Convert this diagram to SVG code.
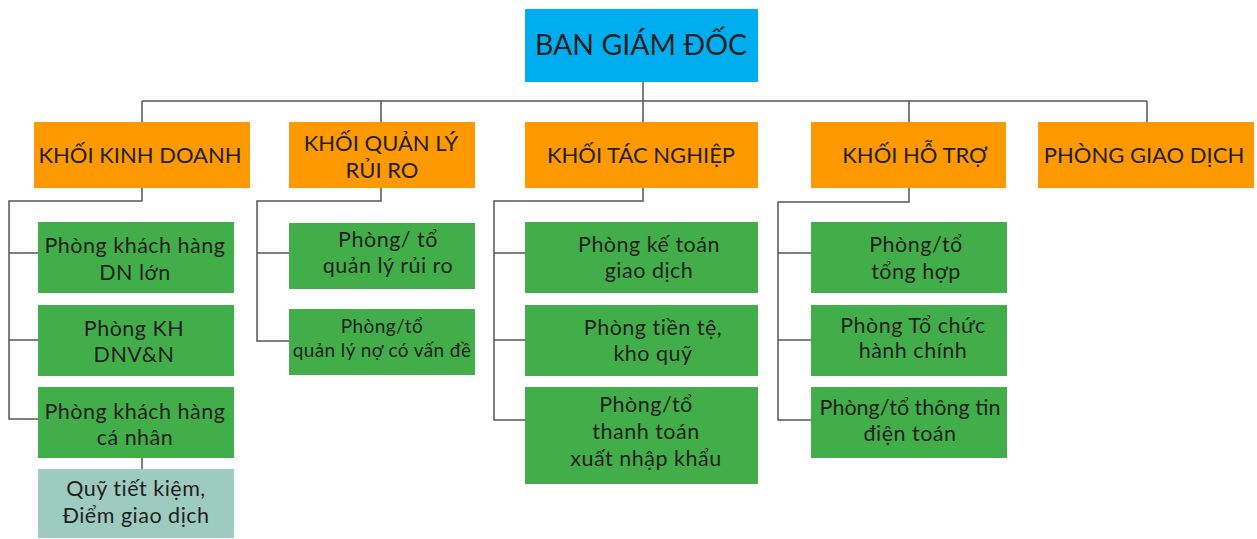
<svg xmlns="http://www.w3.org/2000/svg" width="1257" height="539" viewBox="0 0 1257 539">
<style>
text{font-family:Lato,"Open Sans","DejaVu Sans",sans-serif;fill:#231f20;text-anchor:middle}
.top{font-size:28.5px}
.h{font-size:22px}
.g{font-size:21.5px;letter-spacing:0.5px}
.s{font-size:19px;letter-spacing:0.4px}
.blue{fill:#00aeef}
.org{fill:#ff9900}
.grn{fill:#41ae4a}
.teal{fill:#9ecbbf}
.c{fill:none;stroke:#555;stroke-width:1.5}
</style>
<rect width="1257" height="539" fill="#fff"/>
<g id="connectors" class="c">
<path d="M643 82V122M142 101H1147M142 101V122M381 101V122M909 101V122M1147 101V122"/>
<path d="M142 188V201H9V419H38M9 253H38M9 340H38M142 458V469"/>
<path d="M381 188V201H257V341H289M257 253H289"/>
<path d="M643 188V201H494V420H525M494 253H525M494 340H525"/>
<path d="M909 188V202H778V420H811M778 253H811M778 340H811"/>
</g>
<g id="ban-giam-doc"><rect class="blue" x="525" y="9" width="233" height="73"/><text class="top" x="641" y="55">BAN GIÁM ĐỐC</text></g>
<g id="khoi-kinh-doanh"><rect class="org" x="34" y="122" width="216" height="66"/><text class="h" x="140" y="163">KHỐI KINH DOANH</text></g>
<g id="khoi-quan-ly-rui-ro"><rect class="org" x="289" y="122" width="186" height="66"/><text class="h" x="381" y="151">KHỐI QUẢN LÝ</text><text class="h" x="382" y="178">RỦI RO</text></g>
<g id="khoi-tac-nghiep"><rect class="org" x="525" y="122" width="233" height="66"/><text class="h" x="641" y="163">KHỐI TÁC NGHIỆP</text></g>
<g id="khoi-ho-tro"><rect class="org" x="811" y="122" width="195" height="66"/><text class="h" x="915" y="163">KHỐI HỖ TRỢ</text></g>
<g id="phong-giao-dich"><rect class="org" x="1038" y="122" width="216" height="66"/><text class="h" x="1144" y="163">PHÒNG GIAO DỊCH</text></g>

<g id="kh-dn-lon"><rect class="grn" x="38" y="222" width="196" height="71"/><text class="g" x="135" y="253">Phòng khách hàng</text><text class="g" x="135" y="280">DN lớn</text></g>
<g id="kh-dnvn"><rect class="grn" x="38" y="305" width="196" height="71"/><text class="g" x="134" y="336">Phòng KH</text><text class="g" x="134" y="362">DNV&amp;N</text></g>
<g id="kh-ca-nhan"><rect class="grn" x="38" y="387" width="196" height="71"/><text class="g" x="135" y="419">Phòng khách hàng</text><text class="g" x="135" y="445">cá nhân</text></g>
<g id="quy-tiet-kiem"><rect class="teal" x="38" y="469" width="196" height="69"/><text class="g" x="136" y="496">Quỹ tiết kiệm,</text><text class="g" x="136" y="523">Điểm giao dịch</text></g>

<g id="qlrr"><rect class="grn" x="289" y="223" width="186" height="66"/><text class="g" x="388" y="247">Phòng/ tổ</text><text class="g" x="388" y="273">quản lý rủi ro</text></g>
<g id="ql-no"><rect class="grn" x="289" y="309" width="186" height="66"/><text class="s" x="382" y="333">Phòng/tổ</text><text class="s" x="382" y="357">quản lý nợ có vấn đề</text></g>

<g id="ke-toan"><rect class="grn" x="525" y="222" width="233" height="71"/><text class="g" x="649" y="252">Phòng kế toán</text><text class="g" x="649" y="278">giao dịch</text></g>
<g id="tien-te"><rect class="grn" x="525" y="305" width="233" height="71"/><text class="g" x="653" y="335">Phòng tiền tệ,</text><text class="g" x="653" y="361">kho quỹ</text></g>
<g id="ttxnk"><rect class="grn" x="525" y="387" width="233" height="97"/><text class="g" x="646" y="412">Phòng/tổ</text><text class="g" x="646" y="439">thanh toán</text><text class="g" x="646" y="466">xuất nhập khẩu</text></g>

<g id="tong-hop"><rect class="grn" x="811" y="222" width="196" height="71"/><text class="g" x="916" y="252">Phòng/tổ</text><text class="g" x="916" y="279">tổng hợp</text></g>
<g id="tchc"><rect class="grn" x="811" y="305" width="196" height="71"/><text class="g" x="913" y="333">Phòng Tổ chức</text><text class="g" x="913" y="358">hành chính</text></g>
<g id="ttdt"><rect class="grn" x="811" y="387" width="196" height="71"/><text class="g" x="910" y="415" style="letter-spacing:0">Phòng/tổ thông tin</text><text class="g" x="910" y="441">điện toán</text></g>
</svg>
